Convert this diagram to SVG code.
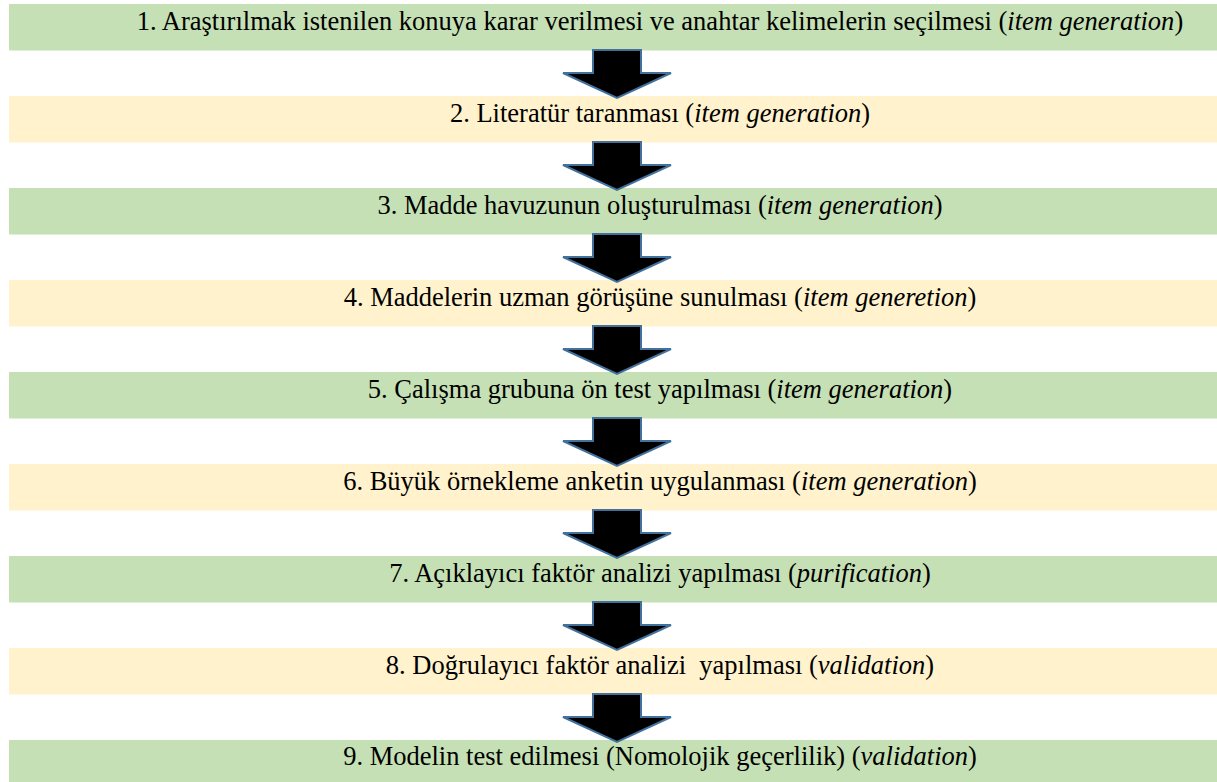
<svg xmlns="http://www.w3.org/2000/svg" width="1217" height="782" viewBox="0 0 1217 782" font-family="Liberation Serif">
  <style>
    .bar-g { fill: #C5E0B4; }
    .bar-y { fill: #FFF2CC; }
    .lbl { font-family: 'Liberation Serif' !important; font-size: 26.5px; fill: #000; text-anchor: middle; }
    .arrow { fill: #000; stroke: #41719C; stroke-width: 2; stroke-linejoin: miter; }
  </style>
  <defs>
    <!-- block down-arrow, origin at the top of the step above -->
    <path id="down" d="M593,46 H641 V69 H671 L617,94 L563,69 H593 Z"/>
  </defs>

  <rect width="1217" height="782" fill="#fff"/>

  <g id="step1"><rect class="bar-g" x="9" y="4" width="1208" height="46.5"/>
    <text class="lbl" style="font-family:'Liberation Serif' !important" x="660" y="29.5">1. Araştırılmak istenilen konuya karar verilmesi ve anahtar kelimelerin seçilmesi (<tspan font-style="italic">item generation</tspan>)</text></g>
  <g id="step2"><rect class="bar-y" x="9" y="96" width="1208" height="46.5"/>
    <text class="lbl" style="font-family:'Liberation Serif' !important" x="660" y="121.5">2. Literatür taranması (<tspan font-style="italic">item generation</tspan>)</text></g>
  <g id="step3"><rect class="bar-g" x="9" y="188" width="1208" height="46.5"/>
    <text class="lbl" style="font-family:'Liberation Serif' !important" x="660" y="213.5">3. Madde havuzunun oluşturulması (<tspan font-style="italic">item generation</tspan>)</text></g>
  <g id="step4"><rect class="bar-y" x="9" y="280" width="1208" height="46.5"/>
    <text class="lbl" style="font-family:'Liberation Serif' !important" x="660" y="305.5">4. Maddelerin uzman görüşüne sunulması (<tspan font-style="italic">item generetion</tspan>)</text></g>
  <g id="step5"><rect class="bar-g" x="9" y="372" width="1208" height="46.5"/>
    <text class="lbl" style="font-family:'Liberation Serif' !important" x="660" y="397.5">5. Çalışma grubuna ön test yapılması (<tspan font-style="italic">item generation</tspan>)</text></g>
  <g id="step6"><rect class="bar-y" x="9" y="464" width="1208" height="46.5"/>
    <text class="lbl" style="font-family:'Liberation Serif' !important" x="660" y="489.5">6. Büyük örnekleme anketin uygulanması (<tspan font-style="italic">item generation</tspan>)</text></g>
  <g id="step7"><rect class="bar-g" x="9" y="556" width="1208" height="46.5"/>
    <text class="lbl" style="font-family:'Liberation Serif' !important" x="660" y="581.5">7. Açıklayıcı faktör analizi yapılması (<tspan font-style="italic">purification</tspan>)</text></g>
  <g id="step8"><rect class="bar-y" x="9" y="648" width="1208" height="46.5"/>
    <text class="lbl" style="font-family:'Liberation Serif' !important" x="660" y="673.5">8. Doğrulayıcı faktör analizi&#160; yapılması (<tspan font-style="italic">validation</tspan>)</text></g>
  <g id="step9"><rect class="bar-g" x="9" y="740" width="1208" height="46.5"/>
    <text class="lbl" style="font-family:'Liberation Serif' !important" x="660" y="765">9. Modelin test edilmesi (Nomolojik geçerlilik) (<tspan font-style="italic">validation</tspan>)</text></g>

  <g id="connectors">
    <use href="#down" class="arrow" transform="translate(0,4)"/>
    <use href="#down" class="arrow" transform="translate(0,96)"/>
    <use href="#down" class="arrow" transform="translate(0,188)"/>
    <use href="#down" class="arrow" transform="translate(0,280)"/>
    <use href="#down" class="arrow" transform="translate(0,372)"/>
    <use href="#down" class="arrow" transform="translate(0,464)"/>
    <use href="#down" class="arrow" transform="translate(0,556)"/>
    <use href="#down" class="arrow" transform="translate(0,648)"/>
  </g>
</svg>
